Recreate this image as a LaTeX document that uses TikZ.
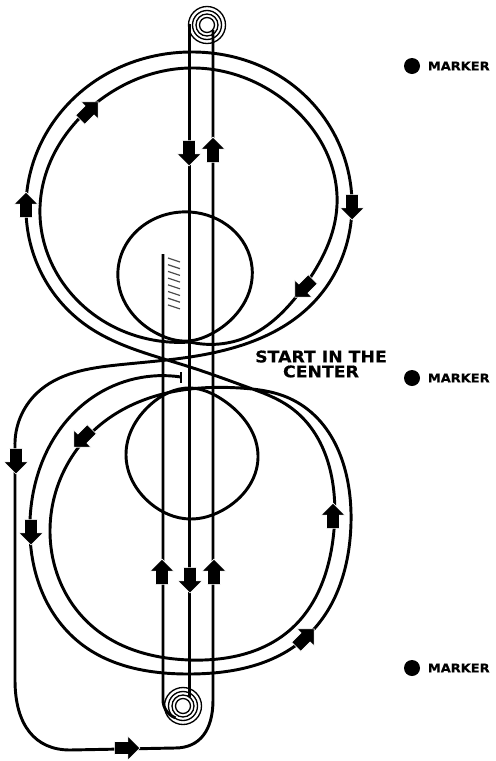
\documentclass[tikz,border=0pt]{standalone}
\usepackage{fontspec}
\newfontfamily\signfont[FakeStretch=1.08,FakeBold=0.5]{DejaVu Sans Bold}
\usetikzlibrary{positioning,shapes.arrows,hobby}
\tikzset{
  course/.style={line width=2.2pt,line join=round,use Hobby shortcut},
  spoolring/.style={line width=1pt},
  hatchline/.style={line width=0.9pt,gray!60!black},
  flowarrow/.style={single arrow,fill=black,draw=white,line width=0.5pt,inner xsep=0pt,inner ysep=4.6pt,
    minimum height=19pt,minimum width=17.5pt,single arrow head extend=4.3pt,
    single arrow head indent=0pt,rotate=#1,xshift=-2.2pt},
  markerdot/.style={circle,fill=black,inner sep=0pt,minimum size=12pt},
  markerlabel/.style={font=\signfont\fontsize{9}{9.5}\selectfont,inner sep=0pt}
}
\begin{document}
\begin{tikzpicture}[x=0.75pt,y=-0.75pt]
  \useasboundingbox (0,0) rectangle (496,761);

  % inner shapes
  \draw[course] ([closed]190,212) .. (252,267) .. (213,333) .. (188,341) .. (160,335) .. (118,270);
  \draw[course] ([closed]190,388) .. (223,400) .. (258,458) .. (223,510) .. (190,519) .. (150,503) .. (126,455) .. (150,405);

  % top ring, inner turn
  \draw[course] (190,342) .. (247,337) .. (303,288) .. (337,205) .. (280,97) .. (190,68) .. (100,100) .. (40,207) .. (77,300) .. (153,340) .. (190,342);

  % the whole run from the centre mark
  \draw[course] (181,372) -- (181,383);
  \draw[course] (181,377) .. (93,397) .. (30,520) .. (80,643) .. (190,674) .. (305,638) .. (351,523) .. (293,400) .. (240,388) .. (190,389) .. (100,425) .. (50,530) .. (93,627) .. (190,660) .. (290,630) .. (334,530) .. (290,407) .. (247,387) .. (190,367) .. (83,323) .. (26,205) .. (83,90) .. (190,52) .. (290,83) .. (352,207) .. (313,303) .. (190,357) .. (117,365) .. (37,393) .. (15,447);

  % straight runs
  \draw[line width=2.2pt] (15,447) -- (15,680) .. controls (15,725) and (35,750) .. (70,750) -- (175,748) .. controls (200,748) and (213,730) .. (213,700) -- (213,30);
  \draw[line width=2.2pt] (189.5,24) -- (189.5,697);
  \draw[line width=2.2pt] (163,254) -- (163,700) arc[start angle=180,end angle=110,radius=19];

  % spools
  \foreach \r in {7.5,11,14.5,18.5} {
    \draw[spoolring] (207,25) circle (\r);
    \draw[spoolring] (183,706) circle (\r);
  }

  % hatching
  \foreach \y in {258,264.7,...,306} {
    \draw[hatchline] (168,\y) -- (180,\y+4);
  }

  % arrows
  \node[flowarrow=-90] (arrowdowntop) at (189,153) {};
  \node[flowarrow=90] (arrowuptop) at (213,150) {};
  \node[flowarrow=-90] (arrowright) at (352,207) {};
  \node[flowarrow=-135] (arrowsw) at (304,288) {};
  \node[flowarrow=45] (arrowne) at (89,111) {};
  \node[flowarrow=90] (arrowleft) at (26,205) {};
  \node[flowarrow=-90] (arrowrun) at (16,461) {};
  \node[flowarrow=-135] (arrowlowsw) at (83,438) {};
  \node[flowarrow=-90] (arrowlowleft) at (31,532) {};
  \node[flowarrow=90] (arrowlowright) at (333,516) {};
  \node[flowarrow=45] (arrowlowne) at (305,638) {};
  \node[flowarrow=90] (arrowbotleft) at (162,572) {};
  \node[flowarrow=-90] (arrowbotmid) at (190,580) {};
  \node[flowarrow=90] (arrowbotright) at (214,572) {};
  \node[flowarrow=0] (arrowbottom) at (127,748) {};

  % markers
  \node[markerdot] (dottop) at (412,66) {};
  \node[markerdot] (dotmid) at (412,378) {};
  \node[markerdot] (dotbot) at (412,668) {};
  \node[markerlabel,right=5.5pt of dottop] (labeltop) {MARKER};
  \node[markerlabel,right=5.5pt of dotmid] (labelmid) {MARKER};
  \node[markerlabel,right=5.5pt of dotbot] (labelbot) {MARKER};

  \node[align=center,font=\signfont\fontsize{12}{11.2}\selectfont,inner sep=0pt] (startlabel) at (321,364) {START IN THE\\CENTER};
\end{tikzpicture}
\end{document}
